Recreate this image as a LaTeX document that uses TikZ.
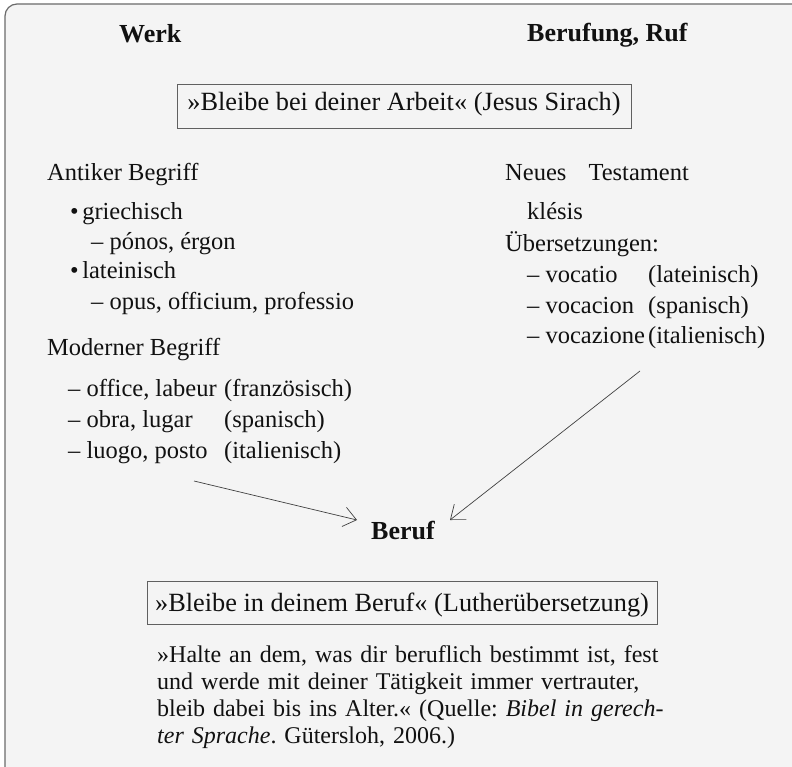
\documentclass[tikz,border=0pt]{standalone}
\usepackage{fontspec}
\setmainfont{Liberation Serif}
\usetikzlibrary{arrows.meta}
\definecolor{bg}{HTML}{F4F4F4}
\definecolor{framegray}{HTML}{6A6A6A}
\definecolor{boxgray}{HTML}{606060}
\definecolor{arrowgray}{HTML}{404040}
\definecolor{txt}{HTML}{111111}
\frenchspacing
\begin{document}
\begin{tikzpicture}[x=1pt,y=-1pt,
  lst/.style={anchor=base west, inner sep=0pt, text=txt, font=\fontsize{24.5}{29}\selectfont},
  hdr/.style={anchor=base west, inner sep=0pt, text=txt, font=\fontsize{26}{30}\selectfont\bfseries},
  qbox/.style={draw=boxgray, line width=1pt, inner sep=0pt, anchor=base, text=txt, font=\fontsize{26.3}{30}\selectfont},
  para/.style={anchor=base west, inner sep=0pt, text=txt, text width=490pt, align=left, font=\fontsize{24}{27}\selectfont},
  conn/.style={draw=arrowgray, line width=0.7pt, -{Straight Barb[length=12.6pt,width=19.7pt]}}]
\useasboundingbox (0,0) rectangle (792,767);
\fill[white] (0,0) rectangle (792,767);
\draw[fill=bg, draw=framegray, line width=1.2pt, rounded corners=12pt] (5,4) rectangle (805,780);

% headers
\node[hdr] (werk) at (119,43) {Werk};
\node[hdr] (berufung) at (527,42) {Berufung, Ruf};

% quote box 1
\node[qbox, minimum width=454pt, text height=26pt, text depth=18pt] (sirach) at (404,111) {»Bleibe bei deiner Arbeit« (Jesus Sirach)};

% left column
\node[lst] (antik) at (47,181) {Antiker Begriff};
\node[lst] (griech) at (70,220) {•\hspace{3.5pt}griechisch};
\node[lst] (ponos) at (91,250) {– pónos, érgon};
\node[lst] (latein) at (70,279) {•\hspace{3.5pt}lateinisch};
\node[lst] (opus) at (91,309) {– opus, officium, professio};
\node[lst] (modern) at (47,355) {Moderner Begriff};
\node[lst] (office) at (68,396) {\makebox[156pt][l]{– office, labeur}(französisch)};
\node[lst] (obra) at (68,427) {\makebox[156pt][l]{– obra, lugar}(spanisch)};
\node[lst] (luogo) at (68,458) {\makebox[156pt][l]{– luogo, posto}(italienisch)};

% right column
\node[lst] (nt) at (505,181) {Neues\hspace{16pt} Testament};
\node[lst] (klesis) at (527,220) {klésis};
\node[lst] (uebers) at (505,252) {Übersetzungen:};
\node[lst] (vocatio) at (527,283) {\makebox[121pt][l]{– vocatio}(lateinisch)};
\node[lst] (vocacion) at (527,313) {\makebox[121pt][l]{– vocacion}(spanisch)};
\node[lst] (vocazione) at (527,343) {\makebox[121pt][l]{– vocazione}(italienisch)};

% Beruf
\node[hdr, anchor=base] (beruf) at (403,539) {Beruf};

% arrows
\coordinate (a1s) at (194,481);
\coordinate (a1e) at (357,520);
\coordinate (a2s) at (640,371);
\coordinate (a2e) at (450,520);
\draw[conn] (a1s) -- (a1e);
\draw[conn] (a2s) -- (a2e);

% quote box 2
\node[qbox, minimum width=510pt, text height=30pt, text depth=13pt] (luther) at (402,611) {»Bleibe in deinem Beruf« (Lutherübersetzung)};

% paragraph
\node[para] (halte) at (157,662) {\makebox[490pt][s]{»Halte an dem, was dir beruflich bestimmt ist, fest}\\
\makebox[490pt][s]{und werde mit deiner Tätigkeit immer vertrauter,}\\
\makebox[490pt][s]{bleib dabei bis ins Alter.« (Quelle: \textit{Bibel in gerech-}}\\
\textit{ter Sprache}. Gütersloh, 2006.)};
\end{tikzpicture}
\end{document}
